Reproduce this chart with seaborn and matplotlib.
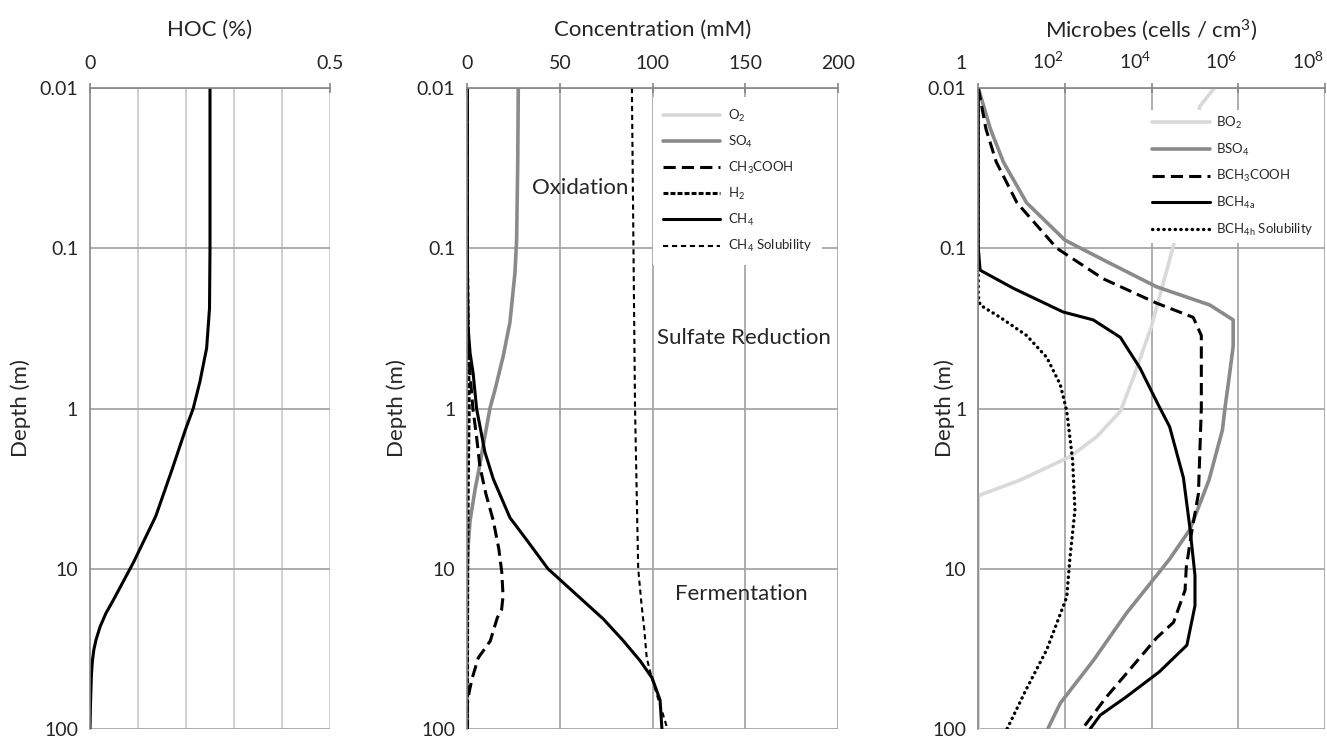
import numpy as np
import pandas as pd
import matplotlib
matplotlib.use("Agg")
import matplotlib.pyplot as plt
from matplotlib.transforms import ScaledTranslation
import seaborn as sns

# ---- panel 1: HOC profile ----
hoc_depth = [0.01, 0.05, 0.1, 0.237, 0.42, 0.68, 1.0, 1.35, 2.4, 4.7, 9.2, 15.6, 19, 23, 27.8, 32, 37.6, 46, 70, 100]
hoc_val = [0.25, 0.25, 0.25, 0.249, 0.243, 0.229, 0.215, 0.199, 0.171, 0.137, 0.09, 0.049, 0.033, 0.021, 0.0125, 0.008, 0.005, 0.003, 0.001, 0.0]

# ---- panel 2: concentrations (mM) ----
o2_depth = [0.01, 0.1, 1, 10, 100]
o2_val = [0, 0, 0, 0, 0]
so4_depth = [0.01, 0.03, 0.089, 0.143, 0.29, 0.47, 0.76, 1.0, 1.55, 2.5, 3.2, 5.0, 7.0, 10, 100]
so4_val = [27.5, 27.2, 26.6, 25.7, 23.0, 19.4, 15.0, 12.2, 9.2, 6.0, 4.2, 1.5, 0.5, 0, 0]
acet_depth = [0.01, 0.2, 0.4, 0.61, 1.0, 1.5, 2.3, 3.4, 5.0, 7.5, 10.5, 14.8, 18, 20.2, 28.2, 36, 48, 58, 70, 100]
acet_val = [0, 0, 0.5, 1.5, 3.0, 5.0, 6.8, 10, 14, 17, 18.6, 19.3, 18.5, 16.2, 12.4, 5.9, 2.7, 1.1, 0, 0]
h2_depth = [0.01, 0.1, 0.3, 1, 3, 10, 100]
h2_val = [0, 0, 0.5, 1.0, 0.5, 0.2, 0]
ch4_depth = [0.01, 0.1, 0.3, 0.45, 0.61, 1.0, 1.87, 2.75, 4.8, 6.6, 10, 11.7, 20.6, 28, 37.6, 48, 66, 100]
ch4_val = [0, 0, 0.3, 1.5, 3.2, 5.0, 9.5, 14, 23, 32, 43.5, 50, 73.4, 84, 93.3, 99.7, 104, 105]
sol_depth = [0.01, 1, 10, 16.7, 24, 36, 48, 100]
sol_val = [88.8, 90.5, 92.2, 94, 95.5, 96.8, 99.5, 108]

# ---- panel 3: microbes (cells / cm3) ----
bo2_depth = [0.01, 0.013, 0.096, 0.31, 0.64, 1.04, 1.5, 2.0, 2.8, 3.5, 10, 100]
bo2_val = [2.8e5, 1.3e5, 3.2e4, 9.8e3, 3.8e3, 1.9e3, 5.4e2, 1.3e2, 9.1, 1, 1, 1]
bso4_depth = [0.01, 0.018, 0.029, 0.052, 0.089, 0.118, 0.174, 0.226, 0.28, 0.41, 0.67, 1.0, 1.36, 2.8, 5.7, 8.7, 19, 37.4, 69, 100]
bso4_val = [1, 1.9, 3.8, 13, 1.0e2, 7.6e2, 1.3e4, 2.2e5, 7.6e5, 7.6e5, 6.0e5, 4.9e5, 4.3e5, 2.1e5, 7.6e4, 2.6e4, 2.6e3, 4.5e2, 78, 40]
bac_depth = [0.01, 0.018, 0.029, 0.052, 0.1, 0.155, 0.22, 0.27, 0.35, 1.0, 3.4, 6.0, 9.8, 13.6, 21.6, 27, 40, 63, 100]
bac_val = [1, 1.5, 2.6, 7.8, 65, 7.6e2, 1.3e4, 9.1e4, 1.4e5, 1.4e5, 1.2e5, 8.3e4, 6.3e4, 5.9e4, 3.2e4, 1.3e4, 3.8e3, 9.1e2, 2.5e2]
bch4a_depth = [0.01, 0.1, 0.137, 0.178, 0.25, 0.28, 0.36, 0.56, 0.94, 1.3, 2.7, 5.5, 11, 17, 30, 44, 63, 82, 100]
bch4a_val = [1, 1, 1.1, 6.5, 91, 4.5e2, 1.9e3, 5.4e3, 1.4e4, 2.6e4, 5.4e4, 7.6e4, 1.0e5, 1.0e5, 6.5e4, 1.5e4, 2.6e3, 6.5e2, 3.8e2]
bch4h_depth = [0.01, 0.1, 0.2, 0.226, 0.27, 0.35, 0.48, 0.71, 1.04, 2.1, 4.3, 8.6, 15, 32, 56, 100]
bch4h_val = [1, 1, 1, 1.1, 3.2, 13, 38, 78, 1.1e2, 1.5e2, 1.7e2, 1.3e2, 1.1e2, 38, 13, 4.6]

depth_ticks = [0.01, 0.1, 1, 10, 100]
depth_labels = ["0.01", "0.1", "1", "10", "100"]

sns.set_style("white")
plt.rcParams["font.family"] = ["Lato", "DejaVu Sans"]

fig = plt.figure(figsize=(13.27, 7.38), dpi=100)
bot, hgt = 1 - 729 / 738, 641 / 738
ax1 = fig.add_axes([90 / 1327, bot, 240 / 1327, hgt])
ax2 = fig.add_axes([467.3 / 1327, bot, 370.7 / 1327, hgt])
ax3 = fig.add_axes([978.3 / 1327, bot, 346.7 / 1327, hgt])

BLACK = "#000000"
GRAY = "#8a8a8a"
LIGHT = "#d9d9d9"
GRID = "#a0a0a0"
TITLE_FS = 16
TICK_FS = 14


def line(ax, xs, ys, **kw):
    df = pd.DataFrame({"x": xs, "y": ys})
    sns.lineplot(data=df, x="x", y="y", ax=ax, sort=False, estimator=None, **kw)


# panel 1
line(ax1, hoc_val, hoc_depth, color=BLACK, lw=2.2)

# panel 2
line(ax2, o2_val, o2_depth, color=LIGHT, lw=2.6, label="O$\\mathregular{_2}$")
line(ax2, so4_val, so4_depth, color=GRAY, lw=2.6, label="SO$\\mathregular{_4}$")
line(ax2, acet_val, acet_depth, color=BLACK, lw=2.2, linestyle=(0, (4, 2)),
     label="CH$\\mathregular{_3}$COOH")
line(ax2, h2_val, h2_depth, color=BLACK, lw=2.2, linestyle=(0, (1.6, 0.7)),
     label="H$\\mathregular{_2}$")
line(ax2, ch4_val, ch4_depth, color=BLACK, lw=2.2, label="CH$\\mathregular{_4}$")
line(ax2, sol_val, sol_depth, color=BLACK, lw=1.5, linestyle=(0, (2.5, 1.8)),
     label="CH$\\mathregular{_4}$ Solubility")

# panel 3
line(ax3, bo2_val, bo2_depth, color=LIGHT, lw=2.6, label="BO$\\mathregular{_2}$")
line(ax3, bso4_val, bso4_depth, color=GRAY, lw=2.6, label="BSO$\\mathregular{_4}$")
line(ax3, bac_val, bac_depth, color=BLACK, lw=2.2, linestyle=(0, (4, 2)),
     label="BCH$\\mathregular{_3}$COOH")
line(ax3, bch4a_val, bch4a_depth, color=BLACK, lw=2.2, label="BCH$\\mathregular{_{4a}}$")
line(ax3, bch4h_val, bch4h_depth, color=BLACK, lw=2.4, linestyle=(0, (0.1, 1.6)),
     dash_capstyle="round", label="BCH$\\mathregular{_{4h}}$ Solubility")

for ax in (ax1, ax2, ax3):
    ax.set_yscale("log")
    ax.set_ylim(100, 0.01)
    ax.set_yticks(depth_ticks)
    ax.set_yticklabels(depth_labels)
    ax.yaxis.set_minor_locator(matplotlib.ticker.NullLocator())
    ax.xaxis.tick_top()
    ax.xaxis.set_label_position("top")
    ax.set_ylabel("Depth (m)", fontsize=TITLE_FS)
    for s in ("right", "bottom"):
        ax.spines[s].set_visible(False)
    for s in ("top", "left"):
        ax.spines[s].set_color("#868686")
        ax.spines[s].set_linewidth(1.2)
    ax.tick_params(axis="both", labelsize=TICK_FS, color="#868686", length=7,
                   width=1.2, direction="inout")
    ax.tick_params(axis="x", pad=8)
    ax.tick_params(axis="y", pad=5)
    ax.grid(axis="y", which="major", color=GRID, lw=1.2)
    ax.set_axisbelow(True)

ax1.set_xlim(0, 0.5)
ax1.set_xticks([0, 0.5])
ax1.set_xticklabels(["0", "0.5"])
for v in [0.1, 0.2, 0.3, 0.4, 0.5]:
    ax1.axvline(v, color="#c8c8c8", lw=1.2, zorder=0)
ax1.set_xlabel("HOC (%)", fontsize=TITLE_FS, labelpad=14)
ax1.yaxis.set_label_coords(-0.246, 0.5)

ax2.set_xlim(0, 200)
ax2.set_xticks([0, 50, 100, 150, 200])
ax2.grid(axis="x", color=GRID, lw=1.2)
ax2.set_xlabel("Concentration (mM)", fontsize=TITLE_FS, labelpad=14)
ax2.yaxis.set_label_coords(-0.163, 0.5)
ax2.text(60.8, 0.042, "Oxidation", fontsize=16, ha="center", va="center")
ax2.text(149, 0.363, "Sulfate Reduction", fontsize=16, ha="center", va="center")
ax2.text(148, 14.4, "Fermentation", fontsize=16, ha="center", va="center")
ax2.legend(loc="upper left", bbox_to_anchor=(0.5, 0.986), fontsize=9.5,
           frameon=True, facecolor="white", edgecolor="none", framealpha=1,
           handlelength=4.3, handletextpad=0.6, labelspacing=0.76,
           borderpad=0.8, borderaxespad=0, fancybox=False)

ax3.set_xscale("log")
ax3.set_xlim(1, 1e8)
ax3.set_xticks([1, 1e2, 1e4, 1e6, 1e8])
ax3.set_xticklabels(["1", "$\\mathregular{10^2}$", "$\\mathregular{10^4}$",
                     "$\\mathregular{10^6}$", "$\\mathregular{10^8}$"])
ax3.xaxis.set_minor_locator(matplotlib.ticker.NullLocator())
ax3.grid(axis="x", which="major", color=GRID, lw=1.2)
ax3.set_xlabel("Microbes (cells / cm$\\mathregular{^3}$)", fontsize=TITLE_FS, labelpad=10)
ax3.yaxis.set_label_coords(-0.068, 0.5)
shift = ScaledTranslation(-17 / 100, 0, fig.dpi_scale_trans)
for lab in ax3.get_xticklabels():
    lab.set_transform(lab.get_transform() + shift)
ax3.legend(loc="upper left", bbox_to_anchor=(0.487, 0.966), fontsize=9.5,
           frameon=True, facecolor="white", edgecolor="none", framealpha=1,
           handlelength=4.4, handletextpad=0.45, labelspacing=0.8,
           borderpad=0.4, borderaxespad=0, fancybox=False)

fig.savefig("out.png", dpi=100)
